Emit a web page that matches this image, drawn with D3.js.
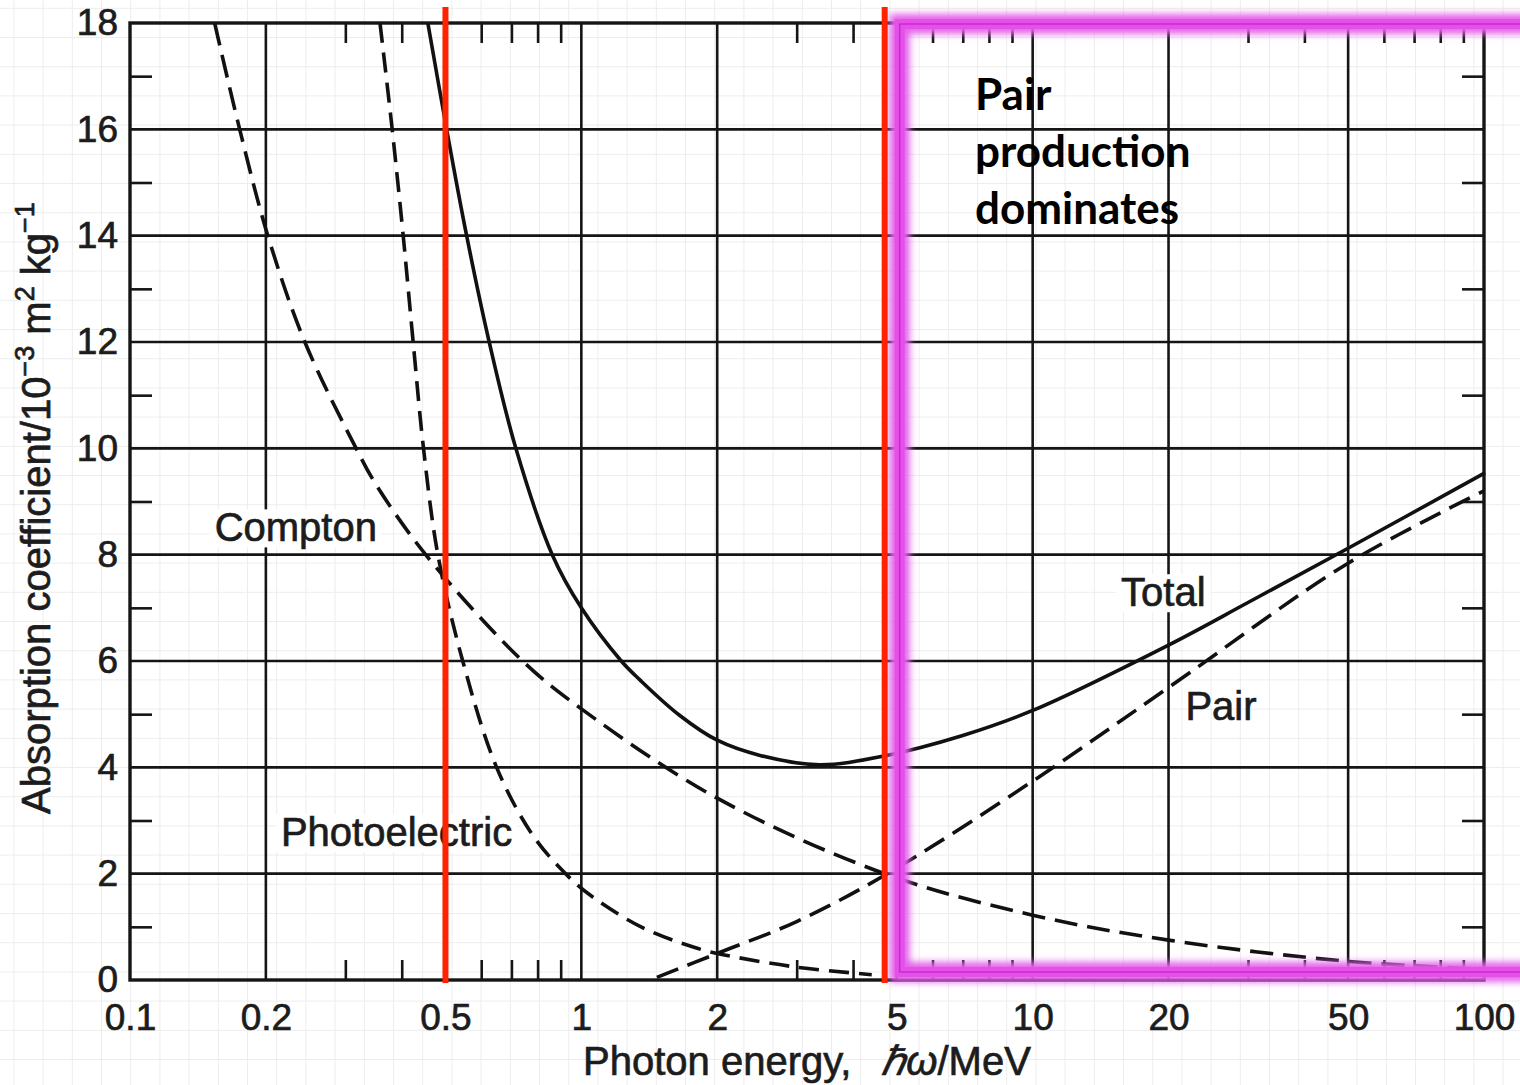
<!DOCTYPE html>
<html>
<head>
<meta charset="utf-8">
<script src="https://cdn.jsdelivr.net/npm/d3@7"></script>
<style>
	body { margin: 0; background: #fff; }
	svg { display: block; }
</style>
</head>
<body>
<svg id="chart" width="1520" height="1085"></svg>
<script>
// Photon energy (MeV) and absorption coefficient (10^-3 m^2 kg^-1)
const totalE = [0.457, 0.503, 0.557, 0.625, 0.716, 0.862, 1.0, 1.226, 1.35, 1.65, 2.0, 2.5, 3.37, 4.66, 7, 10, 20, 30, 50, 100];
const totalV = [18, 16, 14, 12, 10, 8, 7.0, 6.0, 5.64, 4.98, 4.51, 4.22, 4.05, 4.21, 4.6, 5.07, 6.3, 7.1, 8.12, 9.53];

const comptonE = [0.154, 0.175, 0.202, 0.244, 0.317, 0.349, 0.452, 0.741, 1.0, 2.0, 4.7, 10, 20, 50, 100];
const comptonV = [18, 16, 14, 12, 10, 9.35, 8, 6, 5.1, 3.42, 2.0, 1.22, 0.75, 0.35, 0.2];

const photoE = [0.358, 0.381, 0.403, 0.424, 0.447, 0.481, 0.546, 0.649, 0.781, 0.93, 1.06, 1.37, 1.77, 2.0, 2.95, 4.4];
const photoV = [18, 16, 14, 12, 10, 8, 6, 4, 2.72, 1.97, 1.56, 0.98, 0.62, 0.5, 0.25, 0.1];

const pairE = [1.47, 2, 3, 4.7, 10, 20, 50, 100];
const pairV = [0.05, 0.5, 1.1, 1.97, 3.74, 5.5, 7.84, 9.2];

// Axis ticks
const majorX = [0.1, 0.2, 0.5, 1, 2, 5, 10, 20, 50, 100];
const minorX = [0.3, 0.4, 0.6, 0.7, 0.8, 0.9, 3, 4, 6, 7, 8, 9, 30, 40, 60, 70, 80, 90];
const majorY = [0, 2, 4, 6, 8, 10, 12, 14, 16, 18];
const minorY = [1, 3, 5, 7, 9, 11, 13, 15, 17];

// Highlighted energies (red markers)
const markerE = [0.5, 4.7];

const width = 1520;
const height = 1085;
const font = "'Liberation Sans', Arial, sans-serif";
const ink = "#151515";
const textInk = "#1c1c1c";

let svg = d3.select("#chart");

let x = d3.scaleLog().domain([0.1, 100]).range([130, 1484]);
let y = d3.scaleLinear().domain([0, 18]).range([980, 23]);

// scanned lettering is slightly heavier than the plain font
function inked(sel) {
	sel.attr("fill", textInk)
		.attr("stroke", textInk)
		.attr("stroke-width", 0.7);
}

/**
 * Faint background grid of the slide
 */
let bg = svg.append("g").attr("stroke", "#ededed").attr("stroke-width", 1);
bg.selectAll("line.v")
	.data(d3.range(13.9, width, 29.2))
	.enter().append("line")
	.attr("x1", d => d).attr("x2", d => d)
	.attr("y1", 0).attr("y2", height);
bg.selectAll("line.h")
	.data(d3.range(8.3, height, 29.2))
	.enter().append("line")
	.attr("y1", d => d).attr("y2", d => d)
	.attr("x1", 0).attr("x2", width);

/**
 * Grid lines and frame
 */
let grid = svg.append("g").attr("stroke", ink).attr("stroke-width", 2.6);
grid.selectAll("line.gx")
	.data(majorX.slice(1, -1))
	.enter().append("line")
	.attr("x1", d => x(d)).attr("x2", d => x(d))
	.attr("y1", y(18)).attr("y2", y(0));
grid.selectAll("line.gy")
	.data(majorY.slice(1, -1))
	.enter().append("line")
	.attr("y1", d => y(d)).attr("y2", d => y(d))
	.attr("x1", x(0.1)).attr("x2", x(100));

svg.append("rect")
	.attr("x", x(0.1)).attr("y", y(18))
	.attr("width", x(100) - x(0.1))
	.attr("height", y(0) - y(18))
	.attr("fill", "none")
	.attr("stroke", ink)
	.attr("stroke-width", 3.4);

// Minor ticks pointing inwards on all four sides
function styleTicks(g) {
	g.select(".domain").remove();
	g.selectAll(".tick line").attr("stroke", ink).attr("stroke-width", 2.6);
}
svg.append("g").attr("transform", `translate(0,${y(0)})`)
	.call(d3.axisBottom(x).tickValues(minorX).tickSize(-20).tickFormat(""))
	.call(styleTicks);
svg.append("g").attr("transform", `translate(0,${y(18)})`)
	.call(d3.axisTop(x).tickValues(minorX).tickSize(-20).tickFormat(""))
	.call(styleTicks);
svg.append("g").attr("transform", `translate(${x(0.1)},0)`)
	.call(d3.axisLeft(y).tickValues(minorY).tickSize(-22).tickFormat(""))
	.call(styleTicks);
svg.append("g").attr("transform", `translate(${x(100)},0)`)
	.call(d3.axisRight(y).tickValues(minorY).tickSize(-22).tickFormat(""))
	.call(styleTicks);

// Tick labels
function styleLabels(g) {
	g.select(".domain").remove();
	g.selectAll(".tick line").remove();
	g.attr("font-family", font).attr("font-size", 37);
	g.selectAll(".tick text").call(inked);
}
svg.append("g").attr("transform", `translate(0,${y(0)})`)
	.call(d3.axisBottom(x).tickValues(majorX).tickSize(0).tickPadding(24).tickFormat(d3.format("~g")))
	.call(styleLabels);
svg.append("g").attr("transform", `translate(${x(0.1)},0)`)
	.call(d3.axisLeft(y).tickValues(majorY).tickSize(0).tickPadding(12))
	.call(styleLabels);

// Axis titles
let xTitle = svg.append("text")
	.attr("x", 583).attr("y", 1075)
	.attr("font-family", font).attr("font-size", 40)
	.call(inked);
xTitle.append("tspan").text("Photon energy,");
xTitle.append("tspan").attr("dx", 30).attr("font-style", "italic").text("\u210Fω");
xTitle.append("tspan").text("/MeV");

let yTitle = svg.append("text")
	.attr("transform", "translate(50,508) rotate(-90)")
	.attr("text-anchor", "middle")
	.attr("font-family", font).attr("font-size", 40)
	.call(inked);
yTitle.append("tspan").text("Absorption coefficient/10");
yTitle.append("tspan").attr("font-size", 27).attr("dy", -16).text("\u22123");
yTitle.append("tspan").attr("dy", 16).text(" m");
yTitle.append("tspan").attr("font-size", 27).attr("dy", -16).text("2");
yTitle.append("tspan").attr("dy", 16).text(" kg");
yTitle.append("tspan").attr("font-size", 27).attr("dy", -16).text("\u22121");

/**
 * Curve labels (white patch behind those that sit on grid lines)
 */
const curveLabels = [
	{ text: "Compton", e: 0.154, v: 8.25, patch: true },
	{ text: "Photoelectric", e: 0.216, v: 2.52, patch: true },
	{ text: "Total", e: 15.7, v: 7.03, patch: true },
	{ text: "Pair", e: 21.8, v: 4.89, patch: false }
];
let labelG = svg.append("g");
curveLabels.forEach(function(l) {
	let t = labelG.append("text")
		.attr("x", x(l.e)).attr("y", y(l.v))
		.attr("font-family", font).attr("font-size", 40)
		.call(inked)
		.text(l.text);
	if (l.patch) {
		let b = t.node().getBBox();
		labelG.insert("rect", "text")
			.attr("x", b.x - 5).attr("y", b.y + 4)
			.attr("width", b.width + 10).attr("height", b.height - 6)
			.attr("fill", "#fff");
	}
});

/**
 * Curves
 */
let line = d3.line()
	.x(d => x(d[0]))
	.y(d => y(d[1]))
	.curve(d3.curveCatmullRom.alpha(0.5));

const series = [
	{ name: "total", e: totalE, v: totalV, dash: null },
	{ name: "compton", e: comptonE, v: comptonV, dash: "23,10" },
	{ name: "photo", e: photoE, v: photoV, dash: "20,10" },
	{ name: "pair", e: pairE, v: pairV, dash: "23,10" }
];
svg.append("g").selectAll("path")
	.data(series)
	.enter().append("path")
	.attr("class", d => d.name)
	.attr("d", d => line(d3.zip(d.e, d.v)))
	.attr("fill", "none")
	.attr("stroke", "#111")
	.attr("stroke-width", 3.6)
	.attr("stroke-dasharray", d => d.dash);

/**
 * Magenta highlight box for the pair-production region
 */
let defs = svg.append("defs");
defs.append("filter").attr("id", "glow")
	.attr("x", "-10%").attr("y", "-10%").attr("width", "120%").attr("height", "120%")
	.append("feGaussianBlur").attr("stdDeviation", 3.5);

let boxX = x(markerE[1]) + 15;
let boxTop = y(18) + 1;
let boxBottom = y(0) - 8;
let boxPath = `M${width + 40},${boxTop} H${boxX} V${boxBottom} H${width + 40}`;
let box = svg.append("g").attr("fill", "none");
box.append("path").attr("d", boxPath)
	.attr("stroke", "#e462ea").attr("stroke-width", 20)
	.attr("filter", "url(#glow)");
box.append("path").attr("d", boxPath)
	.attr("stroke", "#e450e8").attr("stroke-width", 10);
box.append("path").attr("d", boxPath)
	.attr("stroke", "#c92ad0").attr("stroke-width", 1.5);

// Red marker lines
svg.append("g").selectAll("line")
	.data(markerE)
	.enter().append("line")
	.attr("x1", d => x(d)).attr("x2", d => x(d))
	.attr("y1", 7).attr("y2", y(0) + 3)
	.attr("stroke", "#ff2200")
	.attr("stroke-width", 6);

// Annotation
let note = svg.append("text")
	.attr("font-family", "Lato, 'Open Sans', sans-serif")
	.attr("font-weight", 700)
	.attr("font-size", 44)
	.attr("fill", "#000");
["Pair", "production", "dominates"].forEach(function(s, i) {
	note.append("tspan").attr("x", 975).attr("y", 110 + i * 57).text(s);
});
</script>
</body>
</html>
